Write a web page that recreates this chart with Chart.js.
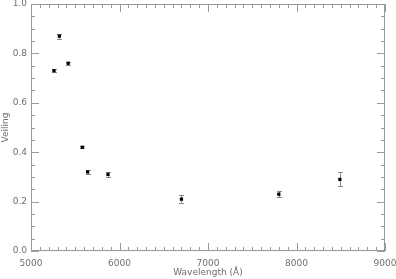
<!DOCTYPE html>
<html>
<head>
<meta charset="utf-8">
<script src="https://cdn.jsdelivr.net/npm/chart.js@4"></script>
<style>
  html, body { margin: 0; padding: 0; background: #fff; }
  #wrap { width: 396px; height: 279px; }
</style>
</head>
<body>
<div id="wrap"><canvas id="veil-chart"></canvas></div>
<script>
// values
const wavelength = [5260, 5320, 5420, 5580, 5640, 5870, 6700, 7800, 8490];
const veiling = [0.73, 0.87, 0.76, 0.42, 0.32, 0.31, 0.21, 0.23, 0.29];
const veilErr = [0.005, 0.01, 0.007, 0.005, 0.008, 0.011, 0.015, 0.013, 0.028];
const xTicks = [5000, 6000, 7000, 8000, 9000];
const yTicks = [0.0, 0.2, 0.4, 0.6, 0.8, 1.0];

const axisGray = '#9a9a9a';
const textGray = '#6e6e6e';

// error bars + box frame with inward ticks (like IDL plots)
const framePlugin = {
  id: 'frame',
  beforeDatasetsDraw(chart) {
    const ctx = chart.ctx;
    const xs = chart.scales.x, ys = chart.scales.y;
    const a = chart.chartArea;
    ctx.save();
    ctx.strokeStyle = axisGray;
    ctx.lineWidth = 1;
    ctx.strokeRect(a.left + 0.5, a.top + 0.5, a.right - a.left - 1, a.bottom - a.top - 1);

    ctx.beginPath();
    // x ticks: major 1000, minor 100
    for (let v = 5000; v <= 9000; v += 100) {
      const px = Math.round(xs.getPixelForValue(v)) + 0.5;
      const len = v % 1000 === 0 ? 8 : 4;
      ctx.moveTo(px, a.bottom); ctx.lineTo(px, a.bottom - len);
      ctx.moveTo(px, a.top); ctx.lineTo(px, a.top + len);
    }
    // y ticks: major 0.2, minor 0.05
    for (let i = 0; i <= 20; i++) {
      const py = Math.round(ys.getPixelForValue(i * 0.05)) + 0.5;
      const len = i % 4 === 0 ? 8 : 4;
      ctx.moveTo(a.left, py); ctx.lineTo(a.left + len, py);
      ctx.moveTo(a.right, py); ctx.lineTo(a.right - len, py);
    }
    ctx.stroke();

    // error bars
    ctx.strokeStyle = '#8a8a8a';
    ctx.beginPath();
    for (let i = 0; i < wavelength.length; i++) {
      const px = Math.round(xs.getPixelForValue(wavelength[i])) + 0.5;
      const top = Math.round(ys.getPixelForValue(veiling[i] + veilErr[i])) + 0.5;
      const bot = Math.round(ys.getPixelForValue(veiling[i] - veilErr[i])) + 0.5;
      ctx.moveTo(px, top); ctx.lineTo(px, bot);
      ctx.moveTo(px - 2.5, top); ctx.lineTo(px + 2.5, top);
      ctx.moveTo(px - 2.5, bot); ctx.lineTo(px + 2.5, bot);
    }
    ctx.stroke();
    ctx.restore();
  }
};

const points = wavelength.map((w, i) => ({ x: w, y: veiling[i] }));

new Chart(document.getElementById('veil-chart').getContext('2d'), {
  type: 'scatter',
  data: {
    datasets: [{
      data: points,
      pointStyle: 'rect',
      pointRadius: 2.3,
      pointBackgroundColor: '#000',
      pointBorderColor: '#000',
      pointBorderWidth: 0
    }]
  },
  options: {
    responsive: true,
    maintainAspectRatio: false,
    animation: false,
    layout: { padding: { top: 1, right: 11, left: 0, bottom: 0 } },
    plugins: { legend: { display: false }, tooltip: { enabled: false } },
    scales: {
      x: {
        type: 'linear',
        min: 5000, max: 9000,
        afterBuildTicks: (s) => { s.ticks = xTicks.map(v => ({ value: v })); },
        afterFit: (s) => { s.height = 28; s.paddingLeft = 0; s.paddingRight = 0; },
        grid: { display: false, drawTicks: false },
        border: { display: false },
        ticks: { color: textGray, font: { family: 'DejaVu Sans', size: 9 }, padding: 7, maxRotation: 0, callback: (v) => String(v) },
        title: { display: true, text: 'Wavelength (Å)', color: textGray, font: { family: 'DejaVu Sans', size: 9 }, padding: { top: 0, bottom: 1 } }
      },
      y: {
        min: 0, max: 1,
        afterBuildTicks: (s) => { s.ticks = yTicks.map(v => ({ value: v })); },
        afterFit: (s) => { s.width = 31; s.paddingTop = 0; s.paddingBottom = 0; },
        grid: { display: false, drawTicks: false },
        border: { display: false },
        ticks: { color: textGray, font: { family: 'DejaVu Sans', size: 9 }, padding: 4, callback: (v) => v.toFixed(1) },
        title: { display: true, text: 'Veiling', color: textGray, font: { family: 'DejaVu Sans', size: 9 }, padding: { top: 0, bottom: 0 } }
      }
    }
  },
  plugins: [framePlugin]
});
</script>
</body>
</html>
